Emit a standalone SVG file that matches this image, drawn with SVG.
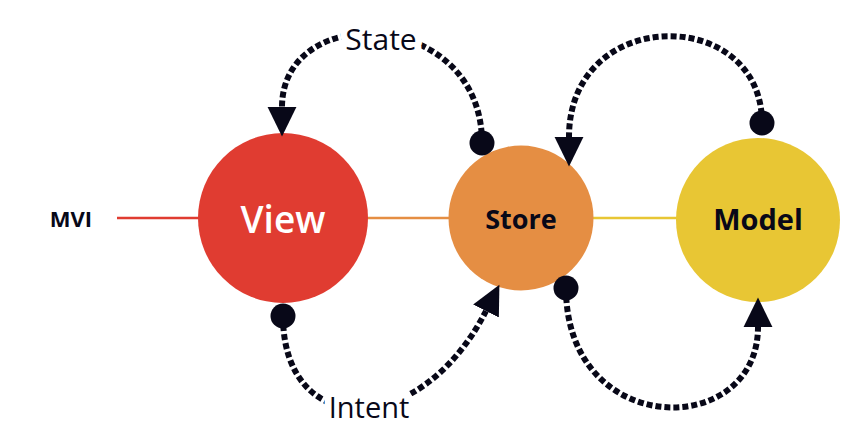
<svg xmlns="http://www.w3.org/2000/svg" width="861" height="435" viewBox="0 0 861 435">
  <style>
    text { font-family: "Open Sans", "Liberation Sans", sans-serif; dominant-baseline: central; text-anchor: middle; }
    .flow { fill: none; stroke: #080818; stroke-width: 6; stroke-dasharray: 6 3; }
    .lbl { fill: #080818; stroke: #ffffff; stroke-width: 14; paint-order: stroke; stroke-linejoin: round; }
    .dark { fill: #080818; font-weight: 700; }
    .link { stroke-width: 2.5; }
  </style>
  <defs>
    <marker id="arrow" markerUnits="userSpaceOnUse" markerWidth="30" markerHeight="30" viewBox="0 -13 26 26" refX="0" refY="0" orient="auto">
      <path d="M0,-12.5 L25.5,0 L0,12.5 z" fill="#080818"/>
    </marker>
    <marker id="dot" markerUnits="userSpaceOnUse" markerWidth="28" markerHeight="28" viewBox="-14 -14 28 28" refX="0" refY="0" orient="auto">
      <circle cx="0" cy="0" r="12.5" fill="#080818"/>
    </marker>
  </defs>

  <g id="links">
    <line class="link" x1="117" y1="218" x2="200" y2="218" stroke="#E03C31"/>
    <line class="link" x1="366" y1="218" x2="451" y2="218" stroke="#E58E43"/>
    <line class="link" x1="592" y1="218" x2="678" y2="218" stroke="#E8C634"/>
  </g>

  <g id="label-mvi">
    <text class="dark" x="71" y="218" font-size="22">MVI</text>
  </g>

  <g id="node-view">
    <circle cx="283" cy="218" r="85" fill="#E03C31"/>
    <text x="283" y="218" font-size="37" font-weight="600" fill="#ffffff">View</text>
  </g>
  <g id="node-store">
    <circle cx="521" cy="218" r="72.5" fill="#E58E43"/>
    <text class="dark" x="521" y="218" font-size="27">Store</text>
  </g>
  <g id="node-model">
    <circle cx="758" cy="220" r="82" fill="#E8C634"/>
    <text class="dark" x="758" y="218" font-size="29">Model</text>
  </g>

  <g id="connectors">
    <path class="flow" d="M482,143 C482,8 282,0 282,107" marker-start="url(#dot)" marker-end="url(#arrow)"/>
    <path class="flow" d="M762,123 C762,5 569,5 569,137" marker-start="url(#dot)" marker-end="url(#arrow)"/>
    <path class="flow" d="M283,316 C283,440 420,440 486,311" marker-start="url(#dot)" marker-end="url(#arrow)"/>
    <path class="flow" d="M566,288 C566,440 758,440 758,327" marker-start="url(#dot)" marker-end="url(#arrow)"/>
    <text class="lbl" x="381" y="38" font-size="30">State</text>
    <text class="lbl" x="369" y="406" font-size="29">Intent</text>
  </g>
</svg>
